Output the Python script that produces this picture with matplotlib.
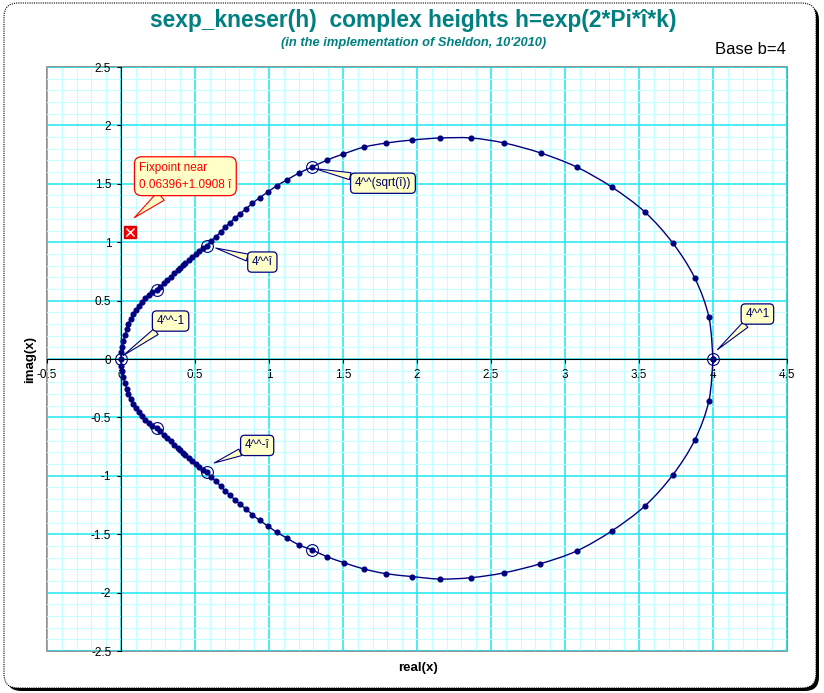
import matplotlib
matplotlib.use('Agg')
import matplotlib.pyplot as plt
from matplotlib.patches import FancyBboxPatch, Rectangle, PathPatch
from matplotlib.path import Path
from matplotlib.transforms import IdentityTransform
from matplotlib.ticker import FuncFormatter
import numpy as np

# sexp_kneser(h), h = exp(2*pi*i*k), upper half k = 0 .. 1/2
upper_re = [4.000, 3.972, 3.877, 3.728, 3.539, 3.315, 3.078, 2.835, 2.591, 2.368,
            2.158, 1.969, 1.793, 1.644, 1.502, 1.394, 1.292,
            1.202, 1.121, 1.053, 0.995, 0.936, 0.888, 0.846, 0.805, 0.769,
            0.735, 0.704, 0.675, 0.641, 0.609, 0.580,
            0.553, 0.530, 0.505, 0.482, 0.458, 0.435, 0.419, 0.401, 0.384,
            0.361, 0.338, 0.313, 0.289, 0.264, 0.242,
            0.210, 0.187, 0.164, 0.142, 0.122, 0.099, 0.081, 0.066, 0.049,
            0.039, 0.027, 0.016, 0.009, 0.003, 0.000]
upper_im = [0.000, 0.360, 0.693, 0.993, 1.259, 1.473, 1.644, 1.764, 1.849, 1.892,
            1.892, 1.875, 1.849, 1.815, 1.755, 1.704, 1.644,
            1.592, 1.533, 1.484, 1.432, 1.381, 1.333, 1.287, 1.244, 1.205,
            1.164, 1.130, 1.090, 1.047, 1.010, 0.970,
            0.948, 0.925, 0.899, 0.871, 0.845, 0.822, 0.802, 0.782, 0.759,
            0.734, 0.705, 0.676, 0.648, 0.619, 0.591,
            0.576, 0.548, 0.520, 0.488, 0.456, 0.420, 0.383, 0.345, 0.300,
            0.254, 0.205, 0.157, 0.105, 0.057, 0.000]

# lower half k = 1/2 .. 1
lower_re = [0.000, 0.003, 0.009, 0.016, 0.027, 0.039, 0.049, 0.066, 0.081, 0.099,
            0.122, 0.142, 0.164, 0.187, 0.210, 0.242,
            0.264, 0.289, 0.313, 0.338, 0.361, 0.384, 0.401, 0.419, 0.435,
            0.458, 0.482, 0.505, 0.530, 0.553, 0.580,
            0.609, 0.641, 0.675, 0.704, 0.735, 0.769, 0.805, 0.846, 0.888,
            0.936, 0.995, 1.053, 1.121, 1.202, 1.292,
            1.392, 1.507, 1.642, 1.791, 1.969, 2.158, 2.368, 2.591, 2.833,
            3.078, 3.315, 3.539, 3.728, 3.877, 3.972, 4.000]
lower_im = [0.000, -0.057, -0.105, -0.157, -0.205, -0.254, -0.300, -0.345, -0.383, -0.420,
            -0.456, -0.488, -0.520, -0.548, -0.576, -0.591,
            -0.619, -0.648, -0.676, -0.705, -0.734, -0.759, -0.782, -0.802, -0.822,
            -0.845, -0.871, -0.899, -0.925, -0.948, -0.970,
            -1.010, -1.047, -1.090, -1.130, -1.164, -1.205, -1.244, -1.287, -1.333,
            -1.381, -1.432, -1.484, -1.533, -1.592, -1.635,
            -1.693, -1.744, -1.798, -1.838, -1.863, -1.884, -1.872, -1.830, -1.753,
            -1.644, -1.473, -1.259, -0.993, -0.693, -0.360, 0.000]

# circled heights k = 0, 1/8, 2/8, ...
marked_re = [4.000, 1.292, 0.580, 0.242, 0.000, 0.242, 0.580, 1.292]
marked_im = [0.000, 1.644, 0.970, 0.591, 0.000, -0.591, -0.970, -1.635]

fix_re = 0.06396
fix_im = 1.0908

callout_texts = ['4^^1', '4^^(sqrt(î))', '4^^î', '4^^-1', '4^^-î']
callout_tips = [(4.03, 0.08), (1.31, 1.63), (0.64, 0.95), (0.015, 0.03), (0.63, -0.89)]
callout_boxes = [(4.30, 0.385), (1.77, 1.505), (0.955, 0.83), (0.335, 0.325), (0.92, -0.74)]

W, H = 824, 693
plt.rcParams['font.family'] = ['Liberation Sans', 'DejaVu Sans']
plt.rcParams['axes.unicode_minus'] = False

fig = plt.figure(figsize=(W / 100, H / 100), dpi=100)

# chart frame with shadow
shadow = FancyBboxPatch((7, 2), 812, 685, boxstyle='round,pad=0,rounding_size=14',
                        transform=IdentityTransform(), fc='black', ec='none', zorder=-10)
frame = FancyBboxPatch((4, 5), 812, 685, boxstyle='round,pad=0,rounding_size=14',
                       transform=IdentityTransform(), fc='white', ec='black',
                       ls=(0, (1, 1)), lw=0.8, zorder=-9)
fig.patches.extend([shadow, frame])

ax = fig.add_axes([47 / W, 1 - 651 / H, 740 / W, 584 / H])
ax.set_xlim(-0.5, 4.5)
ax.set_ylim(-2.5, 2.5)

ax.set_xticks(np.arange(-0.5, 4.51, 0.5))
ax.set_yticks(np.arange(-2.5, 2.51, 0.5))
ax.set_xticks(np.arange(-0.5, 4.51, 0.1), minor=True)
ax.set_yticks(np.arange(-2.5, 2.51, 0.1), minor=True)
fmt = FuncFormatter(lambda v, p: '%g' % round(v, 2))
ax.xaxis.set_major_formatter(fmt)
ax.yaxis.set_major_formatter(fmt)
ax.grid(which='minor', color='#C4FFFF', lw=0.8)
ax.grid(which='major', color='#1EE6F0', lw=1.1)
ax.set_axisbelow(True)

for s in ['top', 'right']:
    ax.spines[s].set_visible(False)
ax.spines['left'].set_position(('data', 0))
ax.spines['bottom'].set_position(('data', 0))
ax.spines['left'].set_color('black')
ax.spines['bottom'].set_color('black')
ax.tick_params(which='major', direction='out', length=3, width=0.8, labelsize=8.5, pad=4)
ax.tick_params(which='minor', length=0)
ax.add_patch(Rectangle((0, 0), 1, 1, transform=ax.transAxes, fill=False,
                       ec='#808080', lw=1.2, clip_on=False, zorder=0.5))

curve_re = upper_re + lower_re[1:]
curve_im = upper_im + lower_im[1:]

# smoothed line through the points (like a "smoothed line" chart), as bezier segments
pts = np.column_stack([curve_re, curve_im])
verts = [pts[0]]
codes = [Path.MOVETO]
n = len(pts)
for i in range(n - 1):
    p0 = pts[max(i - 1, 0)]
    p1 = pts[i]
    p2 = pts[i + 1]
    p3 = pts[min(i + 2, n - 1)]
    verts += [p1 + (p2 - p0) / 6, p2 - (p3 - p1) / 6, p2]
    codes += [Path.CURVE4] * 3
ax.add_patch(PathPatch(Path(verts, codes), fill=False, ec='#000080', lw=1.0, zorder=3))

ax.plot(curve_re, curve_im, ls='none', marker='o', ms=3.4,
        mec='#000080', mfc='#000080', zorder=3)
ax.plot(marked_re, marked_im, ls='none', marker='o', ms=8.5, mfc='none',
        mec='#000080', mew=0.8, zorder=4)

# fixpoint
ax.plot([fix_re], [fix_im], marker='s', ms=9, mfc='#FF0000', mec='#CC0000', ls='none', zorder=4)
ax.plot([fix_re], [fix_im], marker='x', ms=6, mec='white', mew=1.0, ls='none', zorder=5)

for text, tip, box in zip(callout_texts, callout_tips, callout_boxes):
    ax.annotate(text, xy=tip, xytext=box, ha='center', va='center', fontsize=8.5,
                color='#000060', zorder=6,
                bbox=dict(boxstyle='round,pad=0.35,rounding_size=0.35', fc='#FFFFC8',
                          ec='#000080', lw=0.9),
                arrowprops=dict(arrowstyle='wedge,tail_width=0.6,shrink_factor=0.5',
                                fc='#FFFFC8', ec='#000080', lw=0.8, shrinkA=0, shrinkB=0))

ax.annotate('Fixpoint near\n0.06396+1.0908 î', xy=(0.09, 1.21), xytext=(0.435, 1.565),
            ha='center', va='center', multialignment='left', fontsize=8.5, color='#FF0000',
            linespacing=1.6, zorder=6,
            bbox=dict(boxstyle='round,pad=0.4,rounding_size=0.6', fc='#FFFFC8', ec='#FF0000', lw=0.9),
            arrowprops=dict(arrowstyle='wedge,tail_width=0.9,shrink_factor=0.5',
                            fc='#FFFFC8', ec='#FF0000', lw=0.8, shrinkA=0, shrinkB=0))

# texts
title = fig.text(413 / W, 1 - 21 / H, 'sexp_kneser(h)  complex heights h=exp(2*Pi*î*k)',
                 ha='center', va='center', fontsize=17, weight='bold', color='#008080',
                 family=['Liberation Sans Narrow', 'Liberation Sans', 'DejaVu Sans'])
subtitle = fig.text(414 / W, 1 - 43 / H, "(in the implementation of Sheldon, 10'2010)",
                    ha='center', va='center', fontsize=9, style='italic', weight='bold',
                    color='#008080',
                    family=['Liberation Sans Narrow', 'Liberation Sans', 'DejaVu Sans'])
fig.text(786 / W, 1 - 49 / H, 'Base b=4', ha='right', va='center', fontsize=12)
fig.text(30 / W, 1 - 360 / H, 'imag(x)', rotation=90, ha='center', va='center',
         fontsize=9.5, weight='bold')
fig.text(418 / W, 1 - 668 / H, 'real(x)', ha='center', va='center', fontsize=9.5, weight='bold')

# scale title texts to their width in the reference
renderer = fig.canvas.get_renderer()
for t, target in [(title, 524), (subtitle, 264)]:
    for _ in range(3):
        w = t.get_window_extent(renderer).width
        t.set_fontsize(t.get_fontsize() * target / w)

fig.savefig('out.png', dpi=100)
